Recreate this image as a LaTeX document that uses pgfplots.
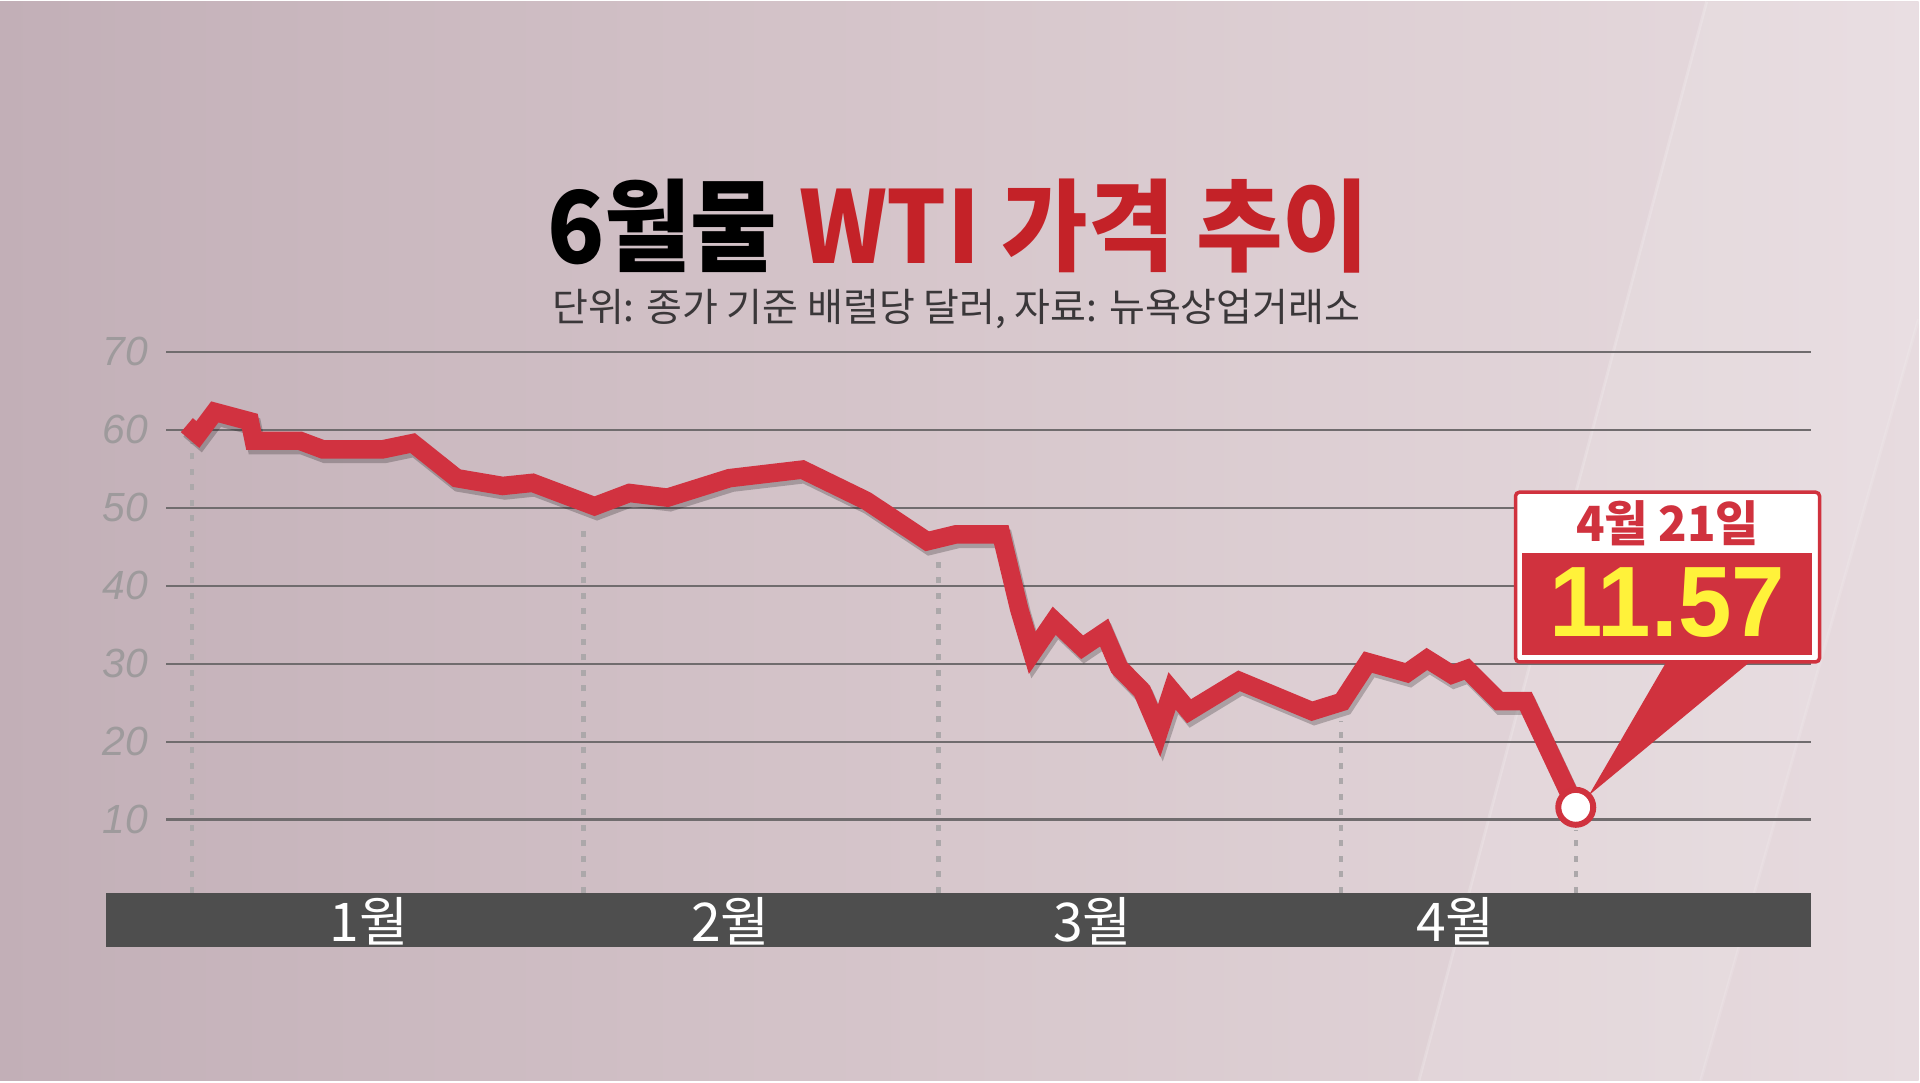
\documentclass[border=0pt]{standalone}
\usepackage{pgfplots}
\pgfplotsset{compat=1.18}
\usepackage{pgfplotstable}
\usepackage{fontspec}
\setmainfont{Liberation Sans}
\newfontfamily\kr{Noto Sans CJK KR}
\newfontfamily\krtitle[FakeStretch=0.94]{Noto Sans CJK KR}
\newfontfamily\krcond[FakeStretch=0.97]{Noto Sans CJK KR}
\newfontfamily\numcond[FakeStretch=0.96]{Liberation Sans}

\definecolor{linered}{RGB}{209,50,64}
\definecolor{titlered}{RGB}{196,34,40}
\definecolor{boxred}{RGB}{208,50,62}
\definecolor{numyellow}{RGB}{255,242,58}
\definecolor{bargray}{RGB}{78,78,78}
\definecolor{gridgray}{RGB}{112,108,110}
\definecolor{dotgray}{RGB}{172,168,170}
\definecolor{tickgray}{RGB}{158,154,156}
\definecolor{subgray}{RGB}{58,55,57}
\definecolor{bgL}{RGB}{194,175,183}
\definecolor{bgM}{RGB}{215,199,204}
\definecolor{bgR}{RGB}{231,219,223}

% x = horizontal position (px), y = USD per barrel
\pgfplotstableread{
x y
187 60.6
198 59.4
215 62.3
250 61.1
254 58.6
300 58.6
323 57.5
383 57.5
413 58.3
457 53.8
503 52.8
533 53.2
595 50.2
630 51.9
668 51.3
730 53.8
803 54.9
867 50.9
928 45.7
957 46.6
1002 46.6
1020 37.0
1033 31.4
1055 35.5
1083 32.1
1105 34.0
1120 29.5
1143 26.5
1160 21.4
1173 26.5
1190 23.9
1240 27.8
1313 23.9
1343 25.1
1369 30.2
1408 28.8
1428 30.6
1453 28.6
1468 29.3
1500 25.2
1527 25.2
1577 11.57
}\wti

\begin{document}
\begin{tikzpicture}
\begin{axis}[
    set layers,
    scale only axis,
    width=164.55mm, height=108mm,
    xmin=166.5, xmax=1812,
    ymin=-23.5, ymax=114.96,
    clip=false,
    axis line style={draw=none},
    xtick=\empty,
    ytick={10,20,...,70},
    major tick length=0pt,
    ymajorgrids,
    grid style={gridgray, line width=0.22mm},
    yticklabel style={font=\itshape\fontsize{11.6}{12}\selectfont, text=tickgray, inner sep=0pt, xshift=-1.75mm},
    /pgf/number format/assume math mode=true,
]
\begin{pgfonlayer}{axis background}
\shade[left color=bgL, right color=bgR, middle color=bgM] (axis cs:0,-23.5) rectangle (axis cs:1920,114.96);
\fill[white, opacity=0.10] (axis cs:1708,114.96) -- (axis cs:1920,114.96) -- (axis cs:1920,74.2) -- (axis cs:1702,-23.5) -- (axis cs:1420,-23.5) -- cycle;
\draw[white, opacity=0.18, line width=0.3mm] (axis cs:1708,114.96) -- (axis cs:1420,-23.5);
\draw[white, opacity=0.12, line width=0.3mm] (axis cs:1920,74.2) -- (axis cs:1702,-23.5);
\end{pgfonlayer}

% month bar
\fill[bargray] (axis cs:106,0.6) rectangle (axis cs:1812,-6.41);
\node[font=\kr\fontsize{15.2}{16}\selectfont, text=white] at (axis cs:369.5,-3.05) {1월};
\node[font=\kr\fontsize{15.2}{16}\selectfont, text=white] at (axis cs:731,-3.05) {2월};
\node[font=\kr\fontsize{15.2}{16}\selectfont, text=white] at (axis cs:1093.5,-3.05) {3월};
\node[font=\kr\fontsize{15.2}{16}\selectfont, text=white] at (axis cs:1456.5,-3.05) {4월};

% dotted markers
\addplot[dotgray, line width=0.45mm, dash pattern=on 0.6mm off 0.95mm, forget plot] coordinates {(192,0.6) (192,58.3)};
\addplot[dotgray, line width=0.45mm, dash pattern=on 0.6mm off 0.95mm, forget plot] coordinates {(584,0.6) (584,47.9)};
\addplot[dotgray, line width=0.45mm, dash pattern=on 0.6mm off 0.95mm, forget plot] coordinates {(939,0.6) (939,43.6)};
\addplot[dotgray, line width=0.45mm, dash pattern=on 0.6mm off 0.95mm, forget plot] coordinates {(1342,0.6) (1342,22.7)};
\addplot[dotgray, line width=0.45mm, dash pattern=on 0.6mm off 0.95mm, forget plot] coordinates {(1577,0.6) (1577,8.6)};

% price line with shadow
\addplot[black, opacity=0.22, line width=1.85mm, line join=miter, miter limit=4, xshift=0.25mm, yshift=-0.45mm, forget plot] table {\wti};
\addplot[linered, line width=1.85mm, line join=miter, miter limit=4] table {\wti};

% callout
\fill[boxred] (axis cs:1668,30.3) -- (axis cs:1752,30.3) -- (axis cs:1590,13.1) -- cycle;
\draw[boxred, line width=0.35mm, fill=white, rounded corners=0.4mm] (axis cs:1516.7,52.0) rectangle (axis cs:1821,30.22);
\fill[boxred] (axis cs:1522.7,44.23) rectangle (axis cs:1813.3,31.12);
\node[font=\krcond\bfseries\fontsize{13.8}{14}\selectfont, text=boxred] at (axis cs:1669,47.97) {4월 21일};
\node[font=\numcond\bfseries\fontsize{28.5}{28}\selectfont, text=numyellow] at (axis cs:1668.6,37.87) {11.57};
\addplot[only marks, mark=*, mark size=1.75mm, mark options={fill=white, draw=boxred, line width=0.6mm}] coordinates {(1577,11.57)};

% titles
\node[font=\krtitle\bfseries\fontsize{28.5}{30}\selectfont] at (axis cs:959,86.18) {6월물 \textcolor{titlered}{WTI 가격 추이}};
\node[font=\kr\fontsize{11.1}{12}\selectfont, text=subgray] at (axis cs:957,75.54) {단위: 종가 기준 배럴당 달러, 자료: 뉴욕상업거래소};
\end{axis}
\end{tikzpicture}
\end{document}
